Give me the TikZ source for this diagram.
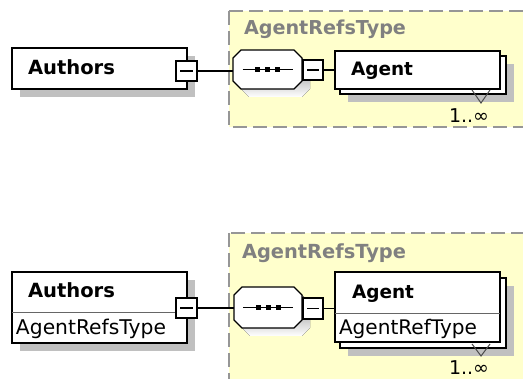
\documentclass[tikz,border=0pt]{standalone}
\usepackage{fontspec}
\setmainfont{DejaVu Sans}
\usetikzlibrary{calc,shadows}
\definecolor{regfill}{RGB}{255,255,204}
\definecolor{regline}{RGB}{150,150,150}
\definecolor{shade}{RGB}{192,192,192}
\definecolor{typegray}{RGB}{128,128,128}
% set text so that it is #1 pt wide; #2 = series commands, #3 = text
\newcommand\fitw[3]{\setbox0=\hbox{\fontsize{10pt}{12pt}\selectfont#2#3}%
  \edef\fitwd{\the\wd0}%
  \pgfmathsetmacro\fitsz{10*#1/\fitwd}%
  \fontsize{\fitsz pt}{\fitsz pt}\selectfont#2#3}
\newcommand\octpath[2]{% #1 node name, #2 shift
  ($(#1.north west)+(#2)+(8pt,0pt)$) -- ($(#1.north east)+(#2)+(-8pt,0pt)$) --
  ($(#1.north east)+(#2)+(0pt,-8pt)$) -- ($(#1.south east)+(#2)+(0pt,8pt)$) --
  ($(#1.south east)+(#2)+(-8pt,0pt)$) -- ($(#1.south west)+(#2)+(8pt,0pt)$) --
  ($(#1.south west)+(#2)+(0pt,8pt)$) -- ($(#1.north west)+(#2)+(0pt,-8pt)$) -- cycle}
\begin{document}
\begin{tikzpicture}[x=1pt,y=-1pt,
  every node/.style={inner sep=0pt, outer sep=0pt},
  region/.style={fill=regfill, draw=regline, line width=1.2pt, dash pattern=on 14pt off 6pt},
  elem/.style={draw=black, fill=white, line width=1.3pt, anchor=north west},
  shad/.style={drop shadow={shadow xshift=8pt, shadow yshift=-8pt, fill=shade, opacity=1}},
  minusbox/.style={draw=black, fill=white, line width=1.3pt, anchor=north west,
    path picture={\draw[line width=1.2pt] ($(path picture bounding box.west)+(4pt,0pt)$) -- ($(path picture bounding box.east)+(-4pt,0pt)$);}},
  seqarea/.style={rectangle, anchor=north west},
  octline/.style={draw=black, fill=white, line width=1.3pt},
  conn/.style={draw=black, line width=1.3pt},
  tri/.style={draw=black!70, line width=1pt, fill=none},
  txt/.style={anchor=base west},
  rg/.style={text=typegray, anchor=base west}
]
\useasboundingbox (0,0) rectangle (523,379);
\clip (0,0) rectangle (523,379);
\fill[white] (0,0) rectangle (523,379);

% ---------- top diagram ----------
\path[region] (229,11) rectangle (540,127);
\node[rg] (rt1) at (244,35) {\fitw{162}{\bfseries}{AgentRefsType}};

\node[elem, shad, minimum width=175pt, minimum height=41pt] (auth1) at (12,48) {};
\node[txt] (auth1t) at (28,75) {\fitw{87}{\bfseries}{Authors}};
\node[minusbox, minimum width=21pt, minimum height=20pt] (am1) at (176,61) {};

\node[seqarea, minimum width=69pt, minimum height=39pt] (seq1) at (233,50) {};
\fill[shade] \octpath{seq1}{8pt,-8pt};
\path[octline] \octpath{seq1}{0pt,0pt};
\node[minusbox, minimum width=20pt, minimum height=20pt] (sm1) at (303,60) {};

\node[elem, shad, minimum width=166pt, minimum height=38pt] (ab1) at (340,56) {};
\node[elem, minimum width=165pt, minimum height=38pt] (af1) at (335,51) {};
\node[txt] (af1t) at (351,76) {\fitw{62}{\bfseries}{Agent}};
\coordinate (tri1a) at (472,90);
\coordinate (tri1b) at (490,90);
\coordinate (tri1c) at (481,103);
\draw[tri] (tri1a) -- (tri1c) -- (tri1b);
\node[txt] (oc1) at (449,123) {\fitw{40}{}{1..∞}};

\draw[conn] (am1.east) -- (am1.east -| seq1.west);
\draw[conn] (sm1.east) -- (sm1.east -| af1.west);

% ---------- bottom diagram ----------
\path[region] (229,233) rectangle (540,400);
\node[rg] (rt2) at (242,259) {\fitw{164}{\bfseries}{AgentRefsType}};

\node[elem, shad, minimum width=175pt, minimum height=71pt] (auth2) at (12,272) {};
\draw[line width=0.8pt, black!60] ($(auth2.north west)+(0pt,-40pt)$) -- ($(auth2.north east)+(0pt,-40pt)$);
\node[txt] (auth2t) at (28,298) {\fitw{87}{\bfseries}{Authors}};
\node[txt] (auth2ty) at (16,335) {\fitw{150}{}{AgentRefsType}};
\node[minusbox, minimum width=21pt, minimum height=20pt] (am2) at (176,298) {};

\node[seqarea, minimum width=68pt, minimum height=41pt] (seq2) at (234,287) {};
\fill[shade] \octpath{seq2}{8pt,-8pt};
\path[octline] \octpath{seq2}{0pt,0pt};
\node[minusbox, minimum width=20pt, minimum height=21pt] (sm2) at (303,298) {};

\node[elem, shad, minimum width=166pt, minimum height=70pt] (ab2) at (340,278) {};
\node[elem, minimum width=165pt, minimum height=70pt] (af2) at (335,272) {};
\draw[line width=0.8pt, black!60] ($(af2.north west)+(0pt,-41pt)$) -- ($(af2.north east)+(0pt,-41pt)$);
\node[txt] (af2t) at (352,299) {\fitw{62}{\bfseries}{Agent}};
\node[txt] (af2ty) at (339,335) {\fitw{138}{}{AgentRefType}};
\coordinate (tri2a) at (472,344);
\coordinate (tri2b) at (490,344);
\coordinate (tri2c) at (481,356);
\draw[tri] (tri2a) -- (tri2c) -- (tri2b);
\node[txt] (oc2) at (449,375) {\fitw{40}{}{1..∞}};

\draw[conn] (am2.east) -- (am2.east -| seq2.west);
\draw[conn] (sm2.east) -- (sm2.east -| af2.west);

% sequence symbols
\foreach \s in {seq1,seq2} {
  \draw[line width=1.3pt] ($(\s.center)+(-25pt,0pt)$) -- ($(\s.center)+(25pt,0pt)$);
  \foreach \dx in {-10,0,10}
    \fill ($(\s.center)+(\dx pt-2.5pt,-2.5pt)$) rectangle +(5pt,5pt);
}
\end{tikzpicture}
\end{document}
